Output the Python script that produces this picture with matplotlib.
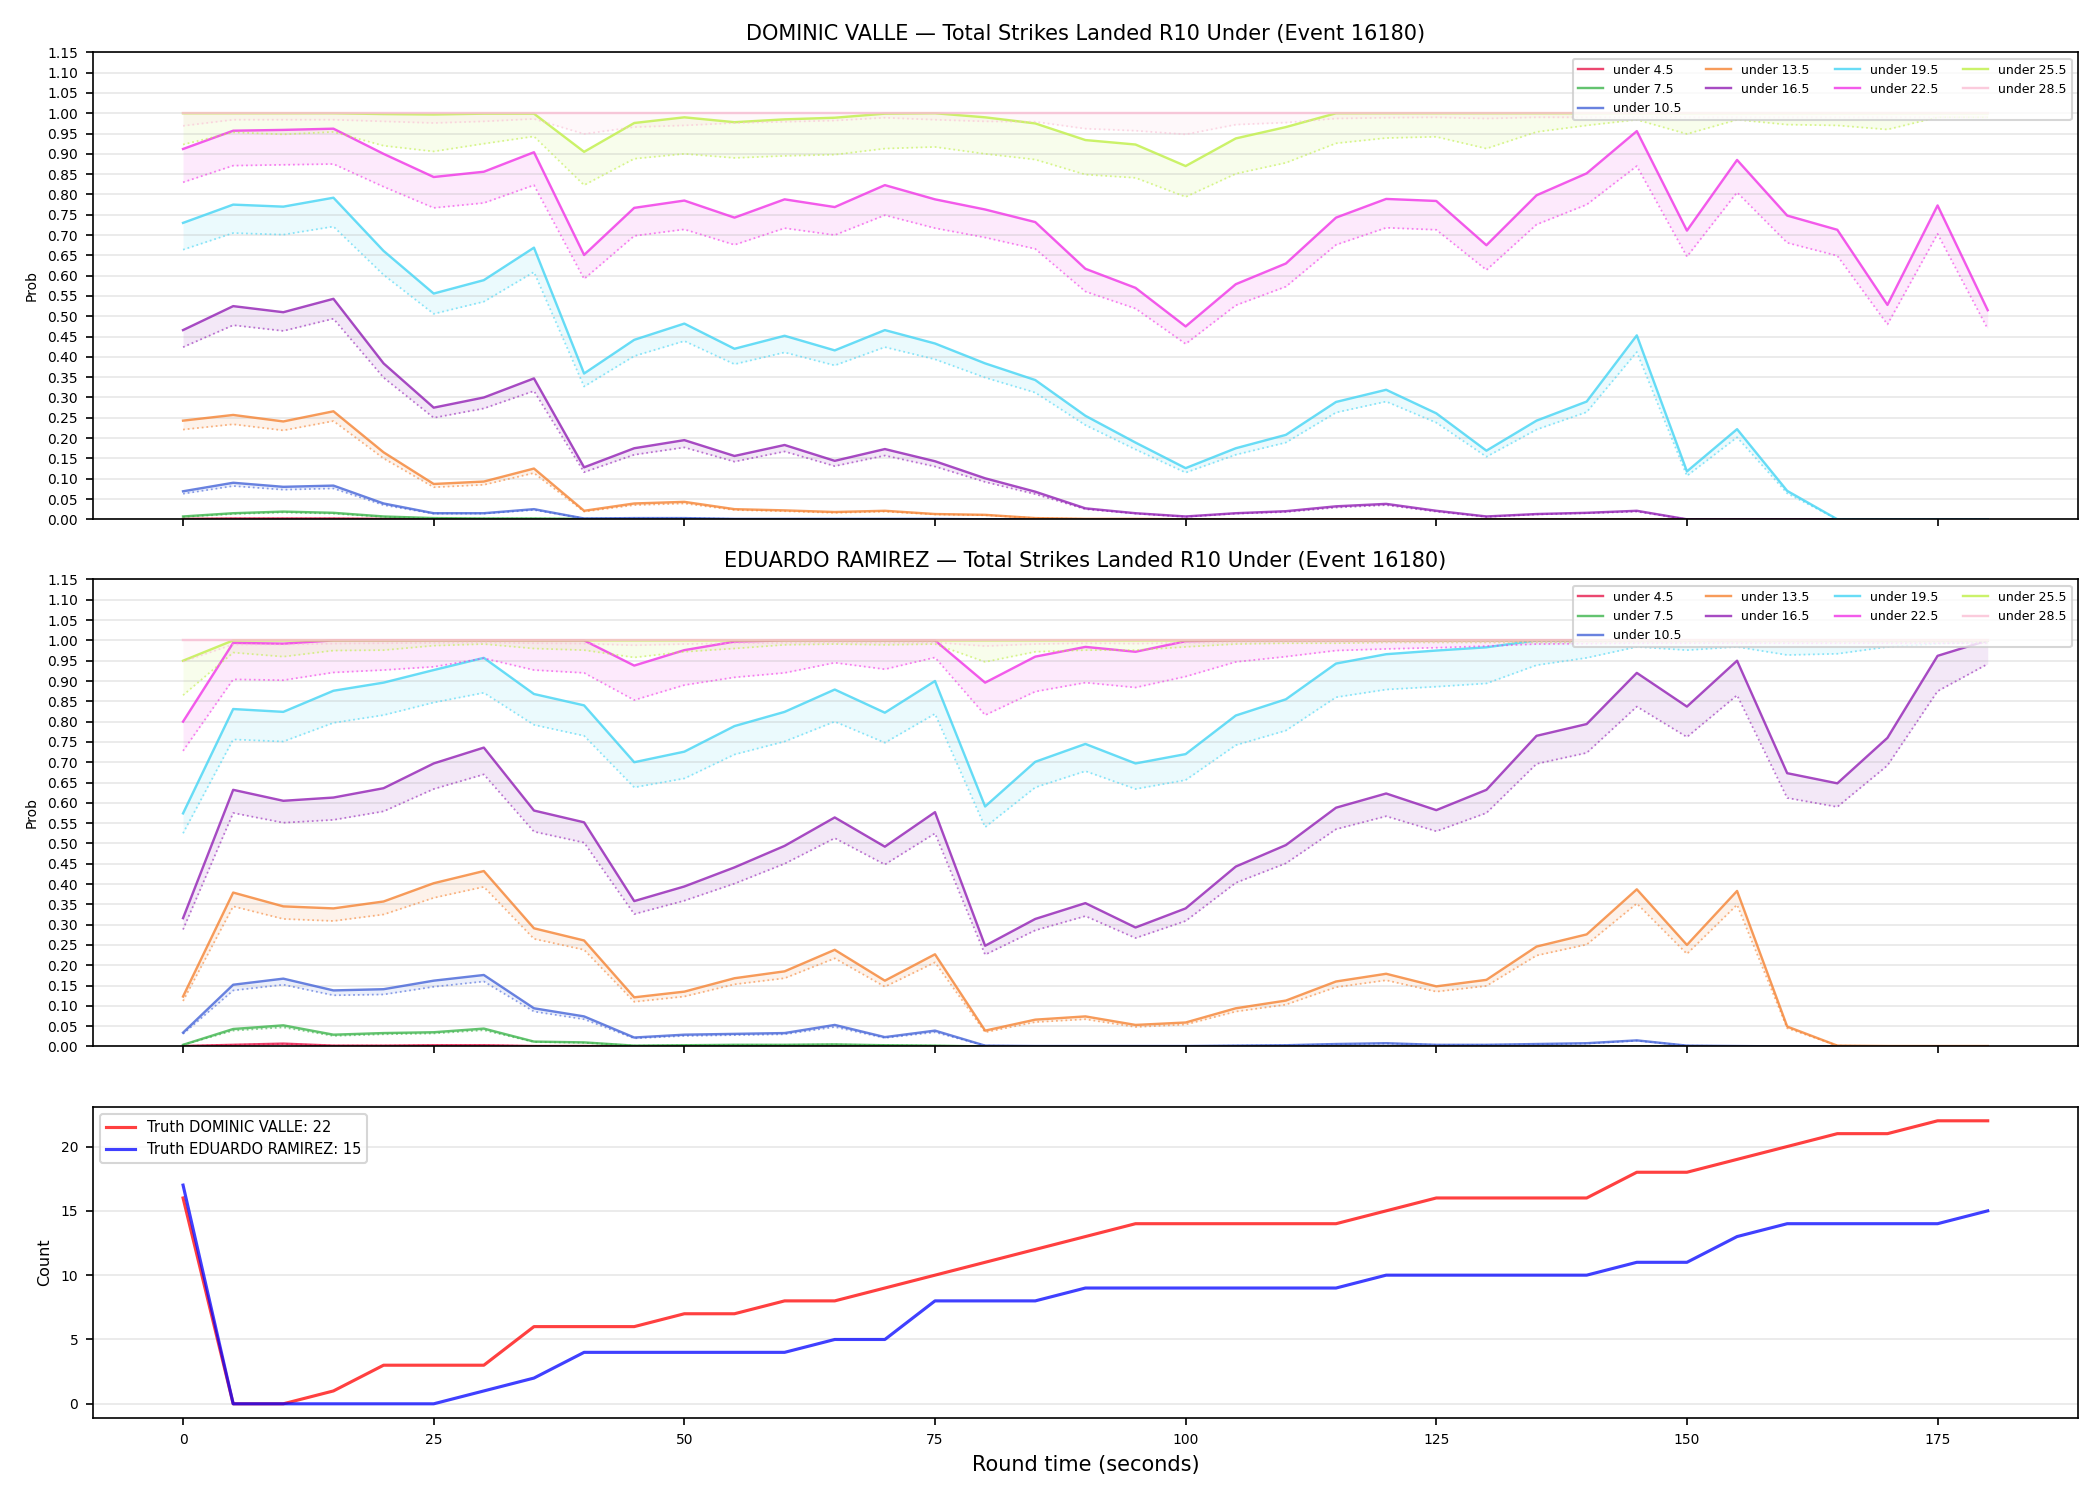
"""Live strike-count probability chart for one round."""

import matplotlib

matplotlib.use("Agg")
from matplotlib import pyplot as plt  # noqa: E402
from matplotlib.ticker import FormatStrFormatter  # noqa: E402

# Round time (seconds)
ROUND_T = [0, 5, 10, 15, 20, 25, 30, 35, 40, 45, 50, 55, 60, 65, 70, 75, 80, 85,
           90, 95, 100, 105, 110, 115, 120, 125, 130, 135, 140, 145, 150, 155,
           160, 165, 170, 175, 180]

LINES = ["under 4.5", "under 7.5", "under 10.5", "under 13.5", "under 16.5",
         "under 19.5", "under 22.5", "under 25.5", "under 28.5"]

# --- DOMINIC VALLE: model prob (solid) and lower band (dotted) ---
DV_U45 = [0.001, 0.002, 0.002, 0.002, 0.001, 0, 0, 0, 0, 0, 0, 0, 0, 0, 0, 0, 0, 0,
          0, 0, 0, 0, 0, 0, 0, 0, 0, 0, 0, 0, 0, 0, 0, 0, 0, 0, 0]
DV_U45_LO = [0.001, 0.002, 0.002, 0.002, 0.001, 0, 0, 0, 0, 0, 0, 0, 0, 0, 0, 0, 0, 0,
             0, 0, 0, 0, 0, 0, 0, 0, 0, 0, 0, 0, 0, 0, 0, 0, 0, 0, 0]
DV_U75 = [0.007, 0.015, 0.019, 0.016, 0.007, 0.003, 0.002, 0.002, 0.001, 0, 0, 0, 0,
          0, 0, 0, 0, 0, 0, 0, 0, 0, 0, 0, 0, 0, 0, 0, 0, 0, 0, 0, 0, 0, 0, 0, 0]
DV_U75_LO = [0.006, 0.013, 0.017, 0.014, 0.006, 0.002, 0.002, 0.002, 0.001, 0, 0, 0,
             0, 0, 0, 0, 0, 0, 0, 0, 0, 0, 0, 0, 0, 0, 0, 0, 0, 0, 0, 0, 0, 0, 0, 0, 0]
DV_U105 = [0.069, 0.090, 0.080, 0.083, 0.039, 0.015, 0.015, 0.025, 0.002, 0.003,
           0.003, 0.001, 0.001, 0.001, 0.001, 0.001, 0, 0, 0, 0, 0, 0, 0, 0, 0, 0,
           0, 0, 0, 0, 0, 0, 0, 0, 0, 0, 0]
DV_U105_LO = [0.063, 0.082, 0.073, 0.076, 0.035, 0.014, 0.014, 0.023, 0.002, 0.003,
              0.003, 0.001, 0.001, 0.001, 0.001, 0.001, 0, 0, 0, 0, 0, 0, 0, 0, 0,
              0, 0, 0, 0, 0, 0, 0, 0, 0, 0, 0, 0]
DV_U135 = [0.243, 0.257, 0.241, 0.266, 0.165, 0.087, 0.093, 0.125, 0.021, 0.039,
           0.043, 0.025, 0.022, 0.018, 0.021, 0.013, 0.011, 0.003, 0.001, 0.001,
           0, 0, 0, 0, 0, 0, 0, 0, 0, 0, 0, 0, 0, 0, 0, 0, 0]
DV_U135_LO = [0.221, 0.234, 0.219, 0.242, 0.150, 0.079, 0.085, 0.114, 0.019, 0.035,
              0.039, 0.023, 0.020, 0.016, 0.019, 0.012, 0.010, 0.003, 0.001, 0.001,
              0, 0, 0, 0, 0, 0, 0, 0, 0, 0, 0, 0, 0, 0, 0, 0, 0]
DV_U165 = [0.466, 0.525, 0.510, 0.543, 0.384, 0.275, 0.300, 0.347, 0.128, 0.175,
           0.195, 0.156, 0.183, 0.144, 0.173, 0.143, 0.101, 0.068, 0.027, 0.015,
           0.007, 0.015, 0.020, 0.032, 0.038, 0.021, 0.007, 0.013, 0.016, 0.021,
           0, 0, 0, 0, 0, 0, 0]
DV_U165_LO = [0.424, 0.478, 0.464, 0.494, 0.349, 0.250, 0.273, 0.316, 0.116, 0.159,
              0.177, 0.142, 0.167, 0.131, 0.157, 0.130, 0.092, 0.062, 0.025, 0.014,
              0.006, 0.014, 0.018, 0.029, 0.035, 0.019, 0.006, 0.012, 0.015, 0.019,
              0, 0, 0, 0, 0, 0, 0]
DV_U195 = [0.730, 0.775, 0.770, 0.792, 0.661, 0.556, 0.589, 0.669, 0.359, 0.442,
           0.482, 0.420, 0.452, 0.416, 0.466, 0.433, 0.384, 0.343, 0.255, 0.189,
           0.126, 0.175, 0.208, 0.289, 0.319, 0.261, 0.169, 0.243, 0.290, 0.453,
           0.118, 0.222, 0.070, 0, 0, 0, 0]
DV_U195_LO = [0.664, 0.705, 0.701, 0.721, 0.602, 0.506, 0.536, 0.609, 0.327, 0.402,
              0.439, 0.382, 0.411, 0.379, 0.424, 0.394, 0.349, 0.312, 0.232, 0.172,
              0.115, 0.159, 0.189, 0.263, 0.290, 0.238, 0.154, 0.221, 0.264, 0.412,
              0.107, 0.202, 0.064, 0, 0, 0, 0]
DV_U225 = [0.912, 0.957, 0.959, 0.962, 0.900, 0.843, 0.856, 0.904, 0.651, 0.767,
           0.785, 0.743, 0.788, 0.769, 0.823, 0.788, 0.763, 0.732, 0.617, 0.570,
           0.475, 0.579, 0.630, 0.743, 0.789, 0.784, 0.675, 0.798, 0.852, 0.956,
           0.711, 0.885, 0.748, 0.713, 0.528, 0.773, 0.515]
DV_U225_LO = [0.830, 0.871, 0.873, 0.875, 0.819, 0.767, 0.779, 0.823, 0.592, 0.698,
              0.714, 0.676, 0.717, 0.700, 0.749, 0.717, 0.694, 0.666, 0.561, 0.519,
              0.432, 0.527, 0.573, 0.676, 0.718, 0.713, 0.614, 0.726, 0.775, 0.870,
              0.647, 0.805, 0.681, 0.649, 0.480, 0.703, 0.469]
DV_U255 = [1.0, 1.0, 1.0, 1.0, 0.998, 0.997, 0.999, 0.999, 0.905, 0.976, 0.990,
           0.978, 0.985, 0.989, 0.999, 1.0, 0.990, 0.975, 0.934, 0.923, 0.870,
           0.938, 0.966, 1.0, 1.0, 1.0, 1.0, 1.0, 1.0, 1.0, 1.0, 1.0, 1.0, 1.0,
           1.0, 1.0, 1.0]
DV_U255_LO = [0.923, 0.953, 0.948, 0.954, 0.920, 0.906, 0.925, 0.943, 0.823, 0.888,
              0.900, 0.890, 0.895, 0.898, 0.913, 0.917, 0.900, 0.886, 0.849, 0.841,
              0.794, 0.851, 0.878, 0.926, 0.939, 0.942, 0.913, 0.954, 0.970, 0.984,
              0.949, 0.984, 0.972, 0.970, 0.960, 0.990, 0.990]
DV_U285 = [1.0, 1.0, 1.0, 1.0, 1.0, 1.0, 1.0, 1.0, 1.0, 1.0, 1.0, 1.0, 1.0, 1.0,
           1.0, 1.0, 1.0, 1.0, 1.0, 1.0, 1.0, 1.0, 1.0, 1.0, 1.0, 1.0, 1.0, 1.0,
           1.0, 1.0, 1.0, 1.0, 1.0, 1.0, 1.0, 1.0, 1.0]
DV_U285_LO = [0.969, 0.984, 0.984, 0.984, 0.980, 0.976, 0.980, 0.986, 0.949, 0.966,
              0.970, 0.976, 0.979, 0.982, 0.989, 0.984, 0.980, 0.979, 0.962, 0.957,
              0.948, 0.972, 0.977, 0.987, 0.989, 0.990, 0.987, 0.990, 0.990, 0.990,
              0.990, 0.990, 0.990, 0.990, 0.990, 0.990, 0.990]

# --- EDUARDO RAMIREZ ---
ER_U45 = [0.001, 0.004, 0.007, 0.002, 0.002, 0.003, 0.003, 0.001, 0.001, 0, 0, 0,
          0, 0, 0, 0, 0, 0, 0, 0, 0, 0, 0, 0, 0, 0, 0, 0, 0, 0, 0, 0, 0, 0, 0, 0, 0]
ER_U45_LO = [0.001, 0.004, 0.006, 0.002, 0.002, 0.003, 0.003, 0.001, 0.001, 0, 0,
             0, 0, 0, 0, 0, 0, 0, 0, 0, 0, 0, 0, 0, 0, 0, 0, 0, 0, 0, 0, 0, 0, 0, 0,
             0, 0]
ER_U75 = [0.004, 0.043, 0.052, 0.029, 0.033, 0.035, 0.044, 0.012, 0.010, 0.002,
          0.003, 0.004, 0.004, 0.005, 0.003, 0.002, 0, 0, 0, 0, 0, 0, 0, 0, 0, 0,
          0, 0, 0, 0, 0, 0, 0, 0, 0, 0, 0]
ER_U75_LO = [0.004, 0.039, 0.047, 0.026, 0.030, 0.032, 0.040, 0.011, 0.009, 0.002,
             0.003, 0.004, 0.004, 0.005, 0.003, 0.002, 0, 0, 0, 0, 0, 0, 0, 0, 0,
             0, 0, 0, 0, 0, 0, 0, 0, 0, 0, 0, 0]
ER_U105 = [0.034, 0.152, 0.167, 0.138, 0.141, 0.162, 0.176, 0.094, 0.074, 0.022,
           0.029, 0.031, 0.033, 0.053, 0.023, 0.039, 0.002, 0.001, 0.001, 0.001,
           0.001, 0.002, 0.003, 0.006, 0.008, 0.004, 0.004, 0.006, 0.008, 0.015,
           0.002, 0.001, 0, 0, 0, 0, 0]
ER_U105_LO = [0.031, 0.138, 0.152, 0.126, 0.128, 0.147, 0.160, 0.086, 0.067, 0.020,
              0.026, 0.028, 0.030, 0.048, 0.021, 0.035, 0.002, 0.001, 0.001, 0.001,
              0.001, 0.002, 0.003, 0.005, 0.007, 0.004, 0.004, 0.005, 0.007, 0.014,
              0.002, 0.001, 0, 0, 0, 0, 0]
ER_U135 = [0.123, 0.379, 0.345, 0.340, 0.357, 0.402, 0.432, 0.291, 0.261, 0.121,
           0.135, 0.168, 0.185, 0.238, 0.162, 0.227, 0.039, 0.066, 0.074, 0.053,
           0.059, 0.094, 0.113, 0.160, 0.179, 0.148, 0.164, 0.246, 0.276, 0.387,
           0.250, 0.383, 0.049, 0.002, 0.001, 0.001, 0.001]
ER_U135_LO = [0.112, 0.345, 0.314, 0.309, 0.325, 0.366, 0.393, 0.265, 0.238, 0.110,
              0.123, 0.153, 0.168, 0.217, 0.147, 0.207, 0.035, 0.060, 0.067, 0.048,
              0.054, 0.086, 0.103, 0.146, 0.163, 0.135, 0.149, 0.224, 0.251, 0.352,
              0.228, 0.349, 0.045, 0.002, 0.001, 0.001, 0.001]
ER_U165 = [0.316, 0.632, 0.605, 0.613, 0.636, 0.697, 0.736, 0.581, 0.552, 0.358,
           0.394, 0.441, 0.494, 0.564, 0.492, 0.577, 0.248, 0.314, 0.353, 0.293,
           0.340, 0.443, 0.496, 0.588, 0.623, 0.582, 0.632, 0.765, 0.794, 0.920,
           0.837, 0.950, 0.673, 0.648, 0.760, 0.962, 1.0]
ER_U165_LO = [0.288, 0.575, 0.551, 0.558, 0.579, 0.634, 0.670, 0.529, 0.502, 0.326,
              0.359, 0.401, 0.450, 0.513, 0.448, 0.525, 0.226, 0.286, 0.321, 0.267,
              0.309, 0.403, 0.451, 0.535, 0.567, 0.530, 0.575, 0.696, 0.723, 0.837,
              0.762, 0.865, 0.612, 0.590, 0.692, 0.875, 0.942]
ER_U195 = [0.574, 0.831, 0.824, 0.876, 0.896, 0.927, 0.957, 0.868, 0.840, 0.700,
           0.726, 0.789, 0.824, 0.879, 0.822, 0.900, 0.591, 0.701, 0.745, 0.697,
           0.720, 0.815, 0.855, 0.943, 0.966, 0.975, 0.983, 1.0, 1.0, 1.0, 1.0,
           1.0, 1.0, 1.0, 1.0, 1.0, 1.0]
ER_U195_LO = [0.525, 0.756, 0.751, 0.797, 0.816, 0.847, 0.871, 0.792, 0.765, 0.638,
              0.660, 0.719, 0.751, 0.800, 0.748, 0.819, 0.540, 0.638, 0.678, 0.634,
              0.656, 0.742, 0.778, 0.860, 0.879, 0.886, 0.894, 0.939, 0.957, 0.984,
              0.976, 0.984, 0.964, 0.967, 0.984, 0.992, 0.995]
ER_U225 = [0.800, 0.994, 0.992, 1.0, 1.0, 1.0, 1.0, 1.0, 1.0, 0.938, 0.976, 0.997,
           1.0, 1.0, 1.0, 1.0, 0.896, 0.960, 0.984, 0.972, 0.998, 1.0, 1.0, 1.0,
           1.0, 1.0, 1.0, 1.0, 1.0, 1.0, 1.0, 1.0, 1.0, 1.0, 1.0, 1.0, 1.0]
ER_U225_LO = [0.728, 0.904, 0.902, 0.921, 0.927, 0.935, 0.956, 0.927, 0.920, 0.853,
              0.890, 0.909, 0.920, 0.945, 0.929, 0.958, 0.816, 0.874, 0.896, 0.884,
              0.911, 0.947, 0.960, 0.975, 0.979, 0.982, 0.986, 0.991, 0.992, 0.993,
              0.993, 0.993, 0.993, 0.993, 0.993, 0.993, 0.993]
ER_U255 = [0.950, 1.0, 1.0, 1.0, 1.0, 1.0, 1.0, 1.0, 1.0, 1.0, 1.0, 1.0, 1.0, 1.0,
           1.0, 1.0, 1.0, 1.0, 1.0, 1.0, 1.0, 1.0, 1.0, 1.0, 1.0, 1.0, 1.0, 1.0,
           1.0, 1.0, 1.0, 1.0, 1.0, 1.0, 1.0, 1.0, 1.0]
ER_U255_LO = [0.865, 0.970, 0.960, 0.975, 0.976, 0.987, 0.991, 0.980, 0.976, 0.958,
              0.972, 0.980, 0.989, 0.991, 0.989, 0.991, 0.947, 0.972, 0.976, 0.976,
              0.984, 0.991, 0.993, 0.993, 0.995, 0.995, 0.995, 0.995, 0.995, 0.995,
              0.995, 0.995, 0.995, 0.995, 0.995, 0.995, 0.995]
ER_U285 = [1.0, 1.0, 1.0, 1.0, 1.0, 1.0, 1.0, 1.0, 1.0, 1.0, 1.0, 1.0, 1.0, 1.0,
           1.0, 1.0, 1.0, 1.0, 1.0, 1.0, 1.0, 1.0, 1.0, 1.0, 1.0, 1.0, 1.0, 1.0,
           1.0, 1.0, 1.0, 1.0, 1.0, 1.0, 1.0, 1.0, 1.0]
ER_U285_LO = [0.948, 0.990, 0.990, 0.992, 0.993, 0.994, 0.995, 0.993, 0.992, 0.988,
              0.991, 0.993, 0.994, 0.995, 0.994, 0.995, 0.986, 0.991, 0.993, 0.992,
              0.994, 0.995, 0.996, 0.996, 0.996, 0.996, 0.996, 0.996, 0.996, 0.996,
              0.996, 0.996, 0.996, 0.996, 0.996, 0.996, 0.996]

# --- observed cumulative strikes ---
TRUTH_DV = [16, 0, 0, 1, 3, 3, 3, 6, 6, 6, 7, 7, 8, 8, 9, 10, 11, 12, 13, 14, 14,
            14, 14, 14, 15, 16, 16, 16, 16, 18, 18, 19, 20, 21, 21, 22, 22]
TRUTH_ER = [17, 0, 0, 0, 0, 0, 1, 2, 4, 4, 4, 4, 4, 5, 5, 8, 8, 8, 9, 9, 9, 9, 9,
            9, 10, 10, 10, 10, 10, 11, 11, 13, 14, 14, 14, 14, 15]

_LINE_COLORS = ["#e6194b", "#3cb44b", "#4363d8", "#f58231", "#911eb4",
                "#42d4f4", "#f032e6", "#bfef45", "#fabed4"]

_DV_SERIES = [(DV_U45, DV_U45_LO), (DV_U75, DV_U75_LO), (DV_U105, DV_U105_LO),
              (DV_U135, DV_U135_LO), (DV_U165, DV_U165_LO), (DV_U195, DV_U195_LO),
              (DV_U225, DV_U225_LO), (DV_U255, DV_U255_LO), (DV_U285, DV_U285_LO)]
_ER_SERIES = [(ER_U45, ER_U45_LO), (ER_U75, ER_U75_LO), (ER_U105, ER_U105_LO),
              (ER_U135, ER_U135_LO), (ER_U165, ER_U165_LO), (ER_U195, ER_U195_LO),
              (ER_U225, ER_U225_LO), (ER_U255, ER_U255_LO), (ER_U285, ER_U285_LO)]


def _prob_panel(ax, fighter, series):
    for label, color, (prob, low) in zip(LINES, _LINE_COLORS, series):
        ax.fill_between(ROUND_T, low, prob, color=color, alpha=0.1, linewidth=0)
        ax.plot(ROUND_T, low, color=color, linestyle=":", linewidth=0.85, alpha=0.6)
        ax.plot(ROUND_T, prob, color=color, linewidth=1.15, alpha=0.8, label=label)
    ax.set_ylim(0, 1.15)
    ax.set_yticks([i * 0.05 for i in range(24)])
    ax.yaxis.set_major_formatter(FormatStrFormatter("%.2f"))
    ax.tick_params(labelsize=6.7, labelbottom=False)
    ax.set_ylabel("Prob", fontsize=6.7)
    ax.grid(True, axis="y", alpha=0.3)
    ax.set_title(
        f"{fighter} — Total Strikes Landed R10 Under (Event 16180)", fontsize=10
    )
    ax.legend(loc="upper right", ncol=4, fontsize=6, framealpha=0.8)


fig = plt.figure(figsize=(14, 10), dpi=150)
grid = fig.add_gridspec(
    3, 1, height_ratios=[3, 3, 2], left=0.0442, right=0.9895,
    top=0.9651, bottom=0.0547, hspace=0.145,
)
ax_dv = fig.add_subplot(grid[0])
ax_er = fig.add_subplot(grid[1], sharex=ax_dv)
ax_truth = fig.add_subplot(grid[2], sharex=ax_dv)

_prob_panel(ax_dv, "DOMINIC VALLE", _DV_SERIES)
_prob_panel(ax_er, "EDUARDO RAMIREZ", _ER_SERIES)

ax_truth.plot(ROUND_T, TRUTH_DV, color="red", alpha=0.75, linewidth=1.5,
              label=f"Truth DOMINIC VALLE: {TRUTH_DV[-1]}")
ax_truth.plot(ROUND_T, TRUTH_ER, color="blue", alpha=0.75, linewidth=1.5,
              label=f"Truth EDUARDO RAMIREZ: {TRUTH_ER[-1]}")
ax_truth.tick_params(labelsize=6.7)
ax_truth.set_ylabel("Count", fontsize=7.7)
ax_truth.set_xlabel("Round time (seconds)", fontsize=10)
ax_truth.grid(True, axis="y", alpha=0.3)
ax_truth.legend(loc="upper left", fontsize=7)

fig.savefig("out.png", dpi=150)
plt.close(fig)
